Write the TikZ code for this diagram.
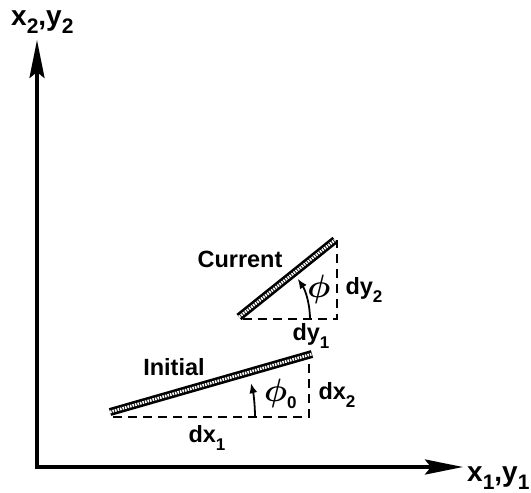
\documentclass[tikz,border=0pt]{standalone}
\usepackage{amsmath}
\usepackage{graphicx}
\usepackage{fontspec}
\setmainfont{Liberation Sans}
\usetikzlibrary{arrows.meta}
\newcommand{\lowsub}[1]{\raisebox{-0.32em}{\fontsize{17}{17}\selectfont #1}}
\newcommand{\axsub}[1]{\raisebox{-0.3em}{\fontsize{21}{21}\selectfont #1}}
\newcommand{\bigphi}{\scalebox{1.3}{$\boldsymbol{\phi}$}}
\begin{document}
\begin{tikzpicture}[x=1pt,y=-1pt,
  lbl/.style={font=\bfseries\fontsize{23.5}{26}\selectfont, inner sep=0pt},
  axlbl/.style={font=\bfseries\fontsize{28}{30}\selectfont, inner sep=0pt},
  philbl/.style={font=\bfseries\fontsize{24}{26}\selectfont, inner sep=0pt},
  axis/.style={line width=3.5pt, -{Stealth[length=38pt,width=15pt,inset=6pt]}},
  dsh/.style={line width=1.8pt, dash pattern=on 9pt off 6pt},
  barout/.style={line width=8pt, line cap=butt},
  barin/.style={line width=2.8pt, white, dash pattern=on 1.6pt off 1pt},
  angarr/.style={line width=1.8pt, -{Latex[length=10pt,width=8pt]}}]
\useasboundingbox (0,0) rectangle (531,493);
% axes
\coordinate (O) at (37,467);
\coordinate (Ytip) at (37,40);
\coordinate (Xtip) at (463,467);
\draw[axis] ([yshift=-1.75pt]O) -- (Ytip);
\draw[axis] ([xshift=-1.75pt]O) -- (Xtip);
\node[axlbl, anchor=base west] (ylab) at (11,25) {x\axsub{2},y\axsub{2}};
\node[axlbl, anchor=base west] (xlab) at (467,481) {x\axsub{1},y\axsub{1}};
% initial bar
\coordinate (IA) at (110,412);
\coordinate (IB) at (312,354);
\coordinate (IC) at (309,417);
\coordinate (IL) at (113,417);
\draw[dsh] (IL) -- (IC) -- (IC |- IB);
\draw[barout] (IA) -- (IB);
\draw[barin] (IA) -- (IB);
\draw[angarr] (255,417) arc[start angle=0, end angle=-13.5, radius=145];
\node[lbl] (init) at (174,367) {Initial};
\node[philbl, anchor=base west] (phi0) at (264,401) {\bigphi\lowsub{0}};
\node[lbl] (dx2) at (337,395) {dx\lowsub{2}};
\node[lbl] (dx1) at (207,438) {dx\lowsub{1}};
% current bar
\coordinate (CA) at (239,317);
\coordinate (CB) at (335,240);
\coordinate (CC) at (337,319);
\coordinate (CL) at (243,319);
\draw[dsh] (CL) -- (CC) -- (CC |- CB);
\draw[barout] (CA) -- (CB);
\draw[barin] (CA) -- (CB);
\draw[angarr] (310,319) arc[start angle=0, end angle=-34, radius=72];
\node[lbl] (cur) at (240,259) {Current};
\node[philbl] (phi) at (319,289) {\bigphi};
\node[lbl] (dy2) at (364,290) {dy\lowsub{2}};
\node[lbl] (dy1) at (311,336) {dy\lowsub{1}};
\end{tikzpicture}
\end{document}
